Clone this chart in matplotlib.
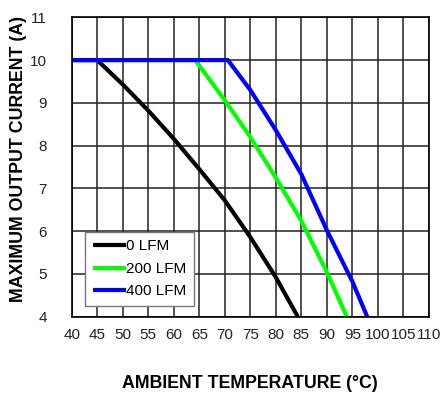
import matplotlib
matplotlib.use("Agg")
import matplotlib.pyplot as plt

plt.rcParams['font.family'] = ['Liberation Sans', 'DejaVu Sans']

temp_0lfm = [40, 45, 50, 55, 60, 65, 70, 75, 80, 84.3]
curr_0lfm = [10, 10, 9.43, 8.82, 8.16, 7.45, 6.72, 5.86, 4.92, 4]
temp_200lfm = [40, 64.2, 70, 75, 80, 85, 90, 93.9]
curr_200lfm = [10, 10, 9.06, 8.2, 7.25, 6.24, 5.04, 4]
temp_400lfm = [40, 70.6, 75, 80, 85, 90, 95, 97.9]
curr_400lfm = [10, 10, 9.3, 8.36, 7.33, 6.02, 4.82, 4]
series_labels = ["0 LFM", "200 LFM", "400 LFM"]
x_ticks = list(range(40, 111, 5))
y_ticks = list(range(4, 12))

fig = plt.figure(figsize=(4.45, 3.97), dpi=100)
ax = fig.add_axes([0.161, 0.2023, 0.803, 0.7541])

ax.plot(temp_0lfm, curr_0lfm, color='black', lw=3.0, label=series_labels[0], solid_capstyle='butt')
ax.plot(temp_200lfm, curr_200lfm, color='#00ff00', lw=3.0, label=series_labels[1], solid_capstyle='butt')
ax.plot(temp_400lfm, curr_400lfm, color='#0000ff', lw=3.0, label=series_labels[2], solid_capstyle='butt')

ax.set_xlim(40, 110)
ax.set_ylim(4, 11)
ax.set_xticks(x_ticks)
ax.set_yticks(y_ticks)
ax.grid(True, color='#222222', lw=1.1)
ax.set_axisbelow(True)
ax.tick_params(length=0, labelsize=11, labelcolor='#222222')
ax.tick_params(axis='x', pad=8)
ax.tick_params(axis='y', pad=18)
for s in ax.spines.values():
    s.set_linewidth(1.2)
    s.set_color('black')

leg = ax.legend(loc='lower left', bbox_to_anchor=(0.037, 0.036), borderaxespad=0,
                fontsize=11, handlelength=2.2, handletextpad=0.0, labelspacing=0.55,
                fancybox=False, framealpha=1, edgecolor='#777777', borderpad=0.5)
leg.get_frame().set_linewidth(1.0)

fig.text(0.041, 0.60, "MAXIMUM OUTPUT CURRENT (A)", rotation=90, ha='center', va='center',
         fontsize=12.8, fontweight='bold')
fig.text(0.562, 0.035, "AMBIENT TEMPERATURE (°C)", ha='center', va='center',
         fontsize=12.8, fontweight='bold')

fig.savefig("out.png", dpi=100)
